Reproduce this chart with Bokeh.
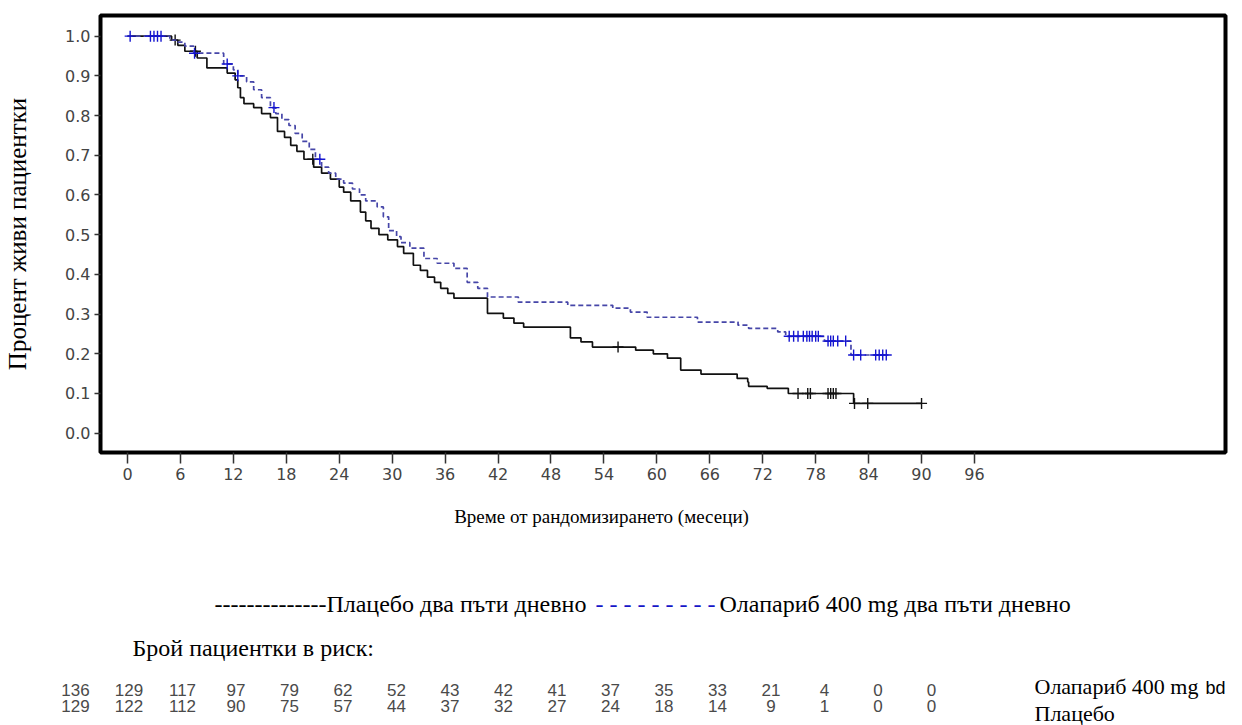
from bokeh.plotting import figure
from bokeh.models import Range1d, FixedTicker, Label, PrintfTickFormatter
from bokeh.embed import file_html
from bokeh.resources import INLINE

# ---------------- data ----------------
x_ticks = [0, 6, 12, 18, 24, 30, 36, 42, 48, 54, 60, 66, 72, 78, 84, 90, 96]
y_ticks = [0.0, 0.1, 0.2, 0.3, 0.4, 0.5, 0.6, 0.7, 0.8, 0.9, 1.0]

# Placebo: event times (months) and survival after each step
placebo_t = [0, 5.0, 5.7, 6.5, 7.9, 9.0, 11.3, 12.2, 12.5, 12.8, 13.2, 14.3, 15.2, 16.2,
             17.0, 17.8, 18.5, 19.2, 20.0, 21.1, 22.0, 23.0, 24.0, 24.5, 25.3, 26.4, 27.0,
             27.6, 28.5, 29.5, 30.6, 31.3, 32.4, 33.2, 34.0, 34.8, 35.5, 36.3, 37.0, 40.8,
             42.6, 43.8, 44.9, 50.2, 51.4, 52.7, 57.6, 59.6, 61.2, 62.7, 65.0, 69.1, 70.3,
             70.4, 72.5, 74.9, 82.3]
placebo_s = [1.0, 0.99, 0.977, 0.962, 0.945, 0.92, 0.907, 0.89, 0.87, 0.845, 0.83, 0.82,
             0.805, 0.795, 0.76, 0.745, 0.725, 0.71, 0.69, 0.67, 0.655, 0.64, 0.62, 0.607,
             0.585, 0.557, 0.535, 0.516, 0.5, 0.487, 0.47, 0.453, 0.423, 0.41, 0.393, 0.38,
             0.365, 0.352, 0.34, 0.302, 0.29, 0.277, 0.267, 0.24, 0.23, 0.217, 0.209, 0.2,
             0.189, 0.159, 0.149, 0.138, 0.129, 0.118, 0.113, 0.10, 0.075]
placebo_end = 90.0
placebo_cens = [5.4, 7.7, 21.0, 55.6, 76.0, 77.1, 77.4, 79.4, 79.7, 80.0, 80.3, 82.4,
                83.9, 90.0]

# Olaparib 400 mg bd
olap_t = [0, 4.8, 5.5, 6.5, 7.5, 10.9, 12.0, 12.5, 13.5, 14.3, 15.2, 16.2, 16.8, 17.5,
          18.3, 19.0, 19.8, 20.6, 21.3, 22.0, 22.8, 23.6, 24.5, 25.5, 26.3, 27.0, 28.3,
          29.0, 29.6, 30.5, 31.0, 32.0, 33.6, 35.1, 37.0, 38.5, 39.7, 40.8, 44.3, 49.9,
          55.0, 57.0, 58.9, 64.6, 69.2, 70.4, 73.7, 74.6, 79.0, 82.0]
olap_s = [1.0, 0.99, 0.985, 0.975, 0.957, 0.93, 0.915, 0.90, 0.885, 0.865, 0.845, 0.82,
          0.805, 0.79, 0.775, 0.755, 0.735, 0.715, 0.69, 0.67, 0.655, 0.64, 0.63, 0.615,
          0.60, 0.585, 0.57, 0.545, 0.51, 0.495, 0.48, 0.466, 0.44, 0.428, 0.415, 0.38,
          0.365, 0.343, 0.33, 0.322, 0.315, 0.305, 0.292, 0.28, 0.272, 0.264, 0.255, 0.244,
          0.232, 0.197]
olap_end = 86.3
olap_cens = [0.3, 2.6, 3.0, 3.4, 3.8, 7.6, 11.3, 12.5, 16.6, 21.8, 75.0, 75.5, 76.0, 76.6,
             77.0, 77.3, 77.6, 78.0, 78.3, 79.4, 79.7, 80.0, 80.5, 81.4, 82.3, 83.1, 84.8,
             85.2, 85.6, 86.0]

risk_olap = [136, 129, 117, 97, 79, 62, 52, 43, 42, 41, 37, 35, 33, 21, 4, 0, 0]
risk_plac = [129, 122, 112, 90, 75, 57, 44, 37, 32, 27, 24, 18, 14, 9, 1, 0, 0]

y_label = "Процент живи пациентки"
x_label = "Време от рандомизирането (месеци)"
legend_placebo = "--------------Плацебо два пъти дневно"
legend_dashes = "- - - - - - - - -"
legend_olap = "Олапариб 400 mg два пъти дневно"
risk_title = "Брой пациентки в риск:"
row_olap = "Олапариб 400 mg"
row_olap_suffix = "bd"
row_plac = "Плацебо"


def surv_at(ts, ss, t):
    s = ss[0]
    for ti, si in zip(ts, ss):
        if ti <= t:
            s = si
    return s


SERIF = "Liberation Serif"
SANS = "DejaVu Sans"

# ---------------- main KM plot ----------------
W = 1242
H_TOP = 490
FRAME_L, FRAME_R = 100, 1225
p = figure(width=W, height=H_TOP, output_backend="svg", toolbar_location=None,
           x_range=Range1d(-3.06, 124.45), y_range=Range1d(-0.0486, 1.052),
           min_border_left=FRAME_L, min_border_right=W - FRAME_R, min_border_top=15,
           min_border_bottom=H_TOP - 452)
p.outline_line_color = "black"
p.outline_line_width = 4
p.xgrid.visible = False
p.ygrid.visible = False
p.background_fill_color = "white"
p.border_fill_color = "white"

for ax in (p.xaxis[0], p.yaxis[0]):
    ax.axis_line_color = None
    ax.major_tick_in = 0
    ax.minor_tick_line_color = None
    ax.major_tick_line_color = "#333333"
    ax.major_tick_line_width = 1.5
    ax.major_label_text_font = SANS
    ax.major_label_text_font_size = "16px"
    ax.major_label_text_color = "#444444"

p.xaxis.ticker = FixedTicker(ticks=x_ticks)
p.xaxis.major_tick_out = 11
p.xaxis.major_label_standoff = 4

p.yaxis.ticker = FixedTicker(ticks=y_ticks)
p.yaxis.formatter = PrintfTickFormatter(format="%.1f")
p.yaxis.major_tick_out = 6
p.yaxis.major_label_standoff = 4
p.yaxis.axis_label = y_label
p.yaxis.axis_label_text_font = SERIF
p.yaxis.axis_label_text_font_style = "normal"
p.yaxis.axis_label_text_font_size = "25px"
p.yaxis.axis_label_text_color = "black"
p.yaxis.axis_label_standoff = 31

# placebo solid black
px = list(placebo_t) + [placebo_end]
py = list(placebo_s) + [placebo_s[-1]]
p.step(px, py, mode="after", line_color="#111111", line_width=1.7)
p.scatter(placebo_cens, [surv_at(placebo_t, placebo_s, t) for t in placebo_cens],
          marker="cross", size=11, line_color="#111111", line_width=1.4)

# olaparib dashed blue
ox = list(olap_t) + [olap_end]
oy = list(olap_s) + [olap_s[-1]]
p.step(ox, oy, mode="after", line_color="#4646a8", line_width=1.7, line_dash="5 3")
p.scatter(olap_cens, [surv_at(olap_t, olap_s, t) for t in olap_cens],
          marker="cross", size=11, line_color="#1414d0", line_width=1.4)

# ---------------- lower panel: x label, legend, risk table ----------------
# data units of this panel equal page pixels (x) and page pixels minus H_TOP (y)
H_BOT = 725 - H_TOP
q = figure(width=W, height=H_BOT, output_backend="svg", toolbar_location=None,
           x_range=Range1d(0, W), y_range=Range1d(H_BOT, 0),
           min_border=0, min_border_left=0, min_border_right=0,
           min_border_top=0, min_border_bottom=0)
q.axis.visible = False
q.grid.visible = False
q.outline_line_color = None
q.background_fill_color = "white"
q.border_fill_color = "white"


def lab(x, y, text, font=SERIF, size="24px", color="black", align="left"):
    q.add_layout(Label(x=x, y=y - H_TOP, text=text, text_font=font, text_font_size=size,
                       text_color=color, text_align=align, text_baseline="middle"))


lab(601, 516, x_label, size="19px", align="center")
lab(214, 603, legend_placebo)
lab(595, 603, legend_dashes, color="#1515c8")
lab(719, 603, legend_olap)
lab(132, 647, risk_title)

col0, step = 75, 53.5
for i, (a, b) in enumerate(zip(risk_olap, risk_plac)):
    lab(col0 + step * i, 689, str(a), font="Liberation Sans", size="17px",
        color="#4a4a4a", align="center")
    lab(col0 + step * i, 705, str(b), font="Liberation Sans", size="17px",
        color="#4a4a4a", align="center")

lab(1034, 686, row_olap, size="22px")
lab(1205, 687, row_olap_suffix, font="Liberation Sans", size="18px")
lab(1034, 713, row_plac, size="22px")

open("out.html", "w").write(file_html([p, q], INLINE))
